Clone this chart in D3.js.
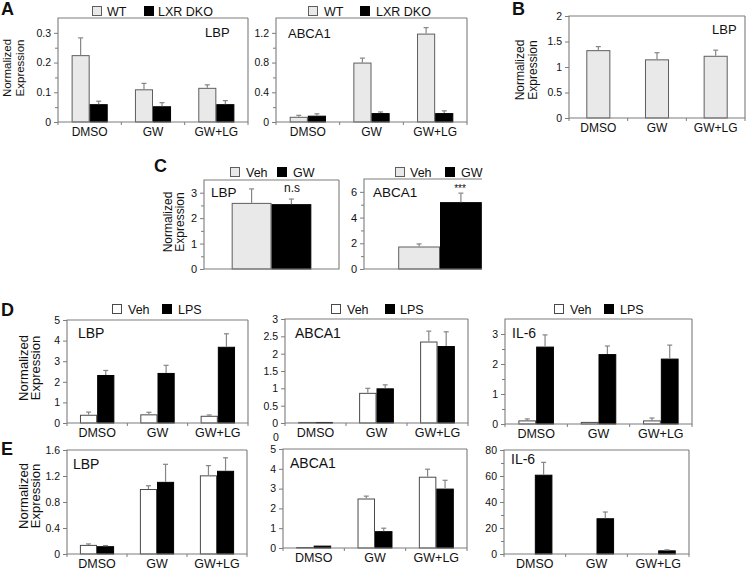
<!DOCTYPE html>
<html><head><meta charset="utf-8">
<script src="https://cdn.jsdelivr.net/npm/d3@7"></script>
<style>
body{margin:0;background:#fff}
svg{display:block}
text{font-family:"Liberation Sans",Arial,sans-serif;fill:#111}
</style>
</head><body>
<svg id="c" width="747" height="570"></svg>
<script>
// ---------- data ----------
const categories = ["DMSO", "GW", "GW+LG"];
const singleCat = [""];

// Panel A (WT vs LXR DKO)
const aLbpWT = [0.225, 0.11, 0.115];
const aLbpWTErr = [0.058, 0.02, 0.01];
const aLbpKO = [0.06, 0.053, 0.06];
const aLbpKOErr = [0.01, 0.012, 0.012];
const aAbcaWT = [0.07, 0.8, 1.19];
const aAbcaWTErr = [0.02, 0.06, 0.08];
const aAbcaKO = [0.085, 0.12, 0.12];
const aAbcaKOErr = [0.025, 0.015, 0.03];

// Panel B
const bLbp = [1.33, 1.15, 1.22];
const bLbpErr = [0.07, 0.13, 0.11];

// Panel C (Veh vs GW)
const cLbpVeh = [2.6], cLbpVehErr = [0.55];
const cLbpGW = [2.55], cLbpGWErr = [0.2];
const cAbcaVeh = [1.75], cAbcaVehErr = [0.2];
const cAbcaGW = [5.2], cAbcaGWErr = [0.7];

// Panel D (Veh vs LPS)
const dLbpVeh = [0.4, 0.42, 0.35], dLbpVehErr = [0.13, 0.1, 0.04];
const dLbpLPS = [2.33, 2.43, 3.7], dLbpLPSErr = [0.22, 0.37, 0.63];
const dAbcaVeh = [0.03, 0.87, 2.35], dAbcaVehErr = [0, 0.13, 0.3];
const dAbcaLPS = [0.03, 1.0, 2.22], dAbcaLPSErr = [0, 0.1, 0.41];
const dIl6Veh = [0.12, 0.07, 0.12], dIl6VehErr = [0.05, 0, 0.08];
const dIl6LPS = [2.58, 2.33, 2.18], dIl6LPSErr = [0.39, 0.27, 0.45];

// Panel E (Veh vs LPS)
const eLbpVeh = [0.14, 1.0, 1.21], eLbpVehErr = [0.015, 0.05, 0.15];
const eLbpLPS = [0.12, 1.11, 1.28], eLbpLPSErr = [0.01, 0.27, 0.2];
const eAbcaVeh = [0.05, 2.5, 3.6], eAbcaVehErr = [0, 0.12, 0.38];
const eAbcaLPS = [0.12, 0.85, 3.0], eAbcaLPSErr = [0, 0.15, 0.42];
const eIl6Veh = [0.3, 0.2, 0.2], eIl6VehErr = [0, 0, 0];
const eIl6LPS = [61, 27.5, 2.8], eIl6LPSErr = [9.5, 4.8, 0.4];

// tick values / labels
const aLbpTicks = [0, 0.1, 0.2, 0.3], aLbpTickLabels = ["0", "0.1", "0.2", "0.3"];
const aAbcaTicks = [0, 0.4, 0.8, 1.2], aAbcaTickLabels = ["0", "0.4", "0.8", "1.2"];
const bTicks = [0, 0.5, 1, 1.5, 2], bTickLabels = ["0", "0.5", "1", "1.5", "2"];
const cLbpTicks = [0, 1, 2, 3], cLbpTickLabels = ["0", "1", "2", "3"];
const cAbcaTicks = [0, 2, 4, 6], cAbcaTickLabels = ["0", "2", "4", "6"];
const dLbpTicks = [0, 1, 2, 3, 4, 5], dLbpTickLabels = ["0", "1", "2", "3", "4", "5"];
const dAbcaTicks = [0, 0.5, 1, 1.5, 2, 2.5, 3], dAbcaTickLabels = ["0", "0.5", "1", "1.5", "2", "2.5", "3"];
const dIl6Ticks = [0, 1, 2, 3], dIl6TickLabels = ["0", "1", "2", "3"];
const eLbpTicks = [0, 0.4, 0.8, 1.2, 1.6], eLbpTickLabels = ["0", "0.4", "0.8", "1.2", "1.6"];
const eAbcaTicks = [0, 1, 2, 3, 4, 5], eAbcaTickLabels = ["0", "1", "2", "3", "4", "5"];
const eIl6Ticks = [0, 20, 40, 60, 80], eIl6TickLabels = ["0", "20", "40", "60", "80"];

// ---------- styles ----------
const GRAY = "#e9e9e9", GRAY_STROKE = "#5e5e5e";
const WHITE = "#ffffff", WHITE_STROKE = "#4a4a4a";
const BLACK = "#000000";
const FRAME = "#7c7c7c", ERR = "#858585";
const svg = d3.select("#c");

function panel(o) {
  const g = svg.append("g");
  let clip = null;
  if (o.clipR) {
    const id = "clip" + Math.round(o.l);
    svg.append("clipPath").attr("id", id).append("rect")
      .attr("x", o.l - 60).attr("y", o.t - 5).attr("width", o.clipR - o.l + 60).attr("height", o.b - o.t + 30);
    g.attr("clip-path", `url(#${id})`);
  }
  const x = d3.scaleBand().domain(o.cats).range([o.l, o.r])
    .paddingInner(o.pad).paddingOuter(o.pad / 2);
  const xs = d3.scaleBand().domain(d3.range(o.series.length)).range([0, x.bandwidth()]);
  const y = d3.scaleLinear().domain([0, o.max]).range([o.b, o.t]);

  // bars
  o.series.forEach((s, si) => {
    g.selectAll(null).data(s.v).enter().append("rect")
      .attr("x", (d, i) => x(o.cats[i]) + xs(si) + 0.5)
      .attr("y", d => y(d) + 0.5)
      .attr("width", xs.bandwidth() - 1)
      .attr("height", d => Math.max(0, o.b - y(d) - 0.5))
      .attr("fill", s.fill).attr("stroke", s.stroke).attr("stroke-width", 1);
    // error bars
    s.v.forEach((d, i) => {
      const e = s.e[i];
      if (!e) return;
      const cx = x(o.cats[i]) + xs(si) + xs.bandwidth() / 2;
      g.append("line").attr("x1", cx).attr("x2", cx).attr("y1", y(d)).attr("y2", y(d + e))
        .attr("stroke", ERR).attr("stroke-width", 1.2);
      g.append("line").attr("x1", cx - 2.5).attr("x2", cx + 2.5).attr("y1", y(d + e)).attr("y2", y(d + e))
        .attr("stroke", ERR).attr("stroke-width", 1.2);
    });
  });

  // frame
  const fr = o.clipR ? o.clipR : o.r;
  const fp = `M${fr},${o.t}H${o.l}V${o.b}H${fr}` + (o.clipR ? "" : `V${o.t}`);
  svg.append("path").attr("d", fp).attr("fill", "none").attr("stroke", FRAME).attr("stroke-width", 1.1);

  // y axis major
  const ya = svg.append("g").attr("transform", `translate(${o.l},0)`)
    .call(d3.axisLeft(y).tickValues(o.ticks).tickFormat((d, i) => o.tickLabels[i]).tickSize(4).tickPadding(3));
  ya.select(".domain").remove();
  ya.selectAll("line").attr("stroke", FRAME);
  ya.selectAll("text").style("font-family", '"Liberation Sans",Arial,sans-serif')
    .style("font-size", (o.tickSize || 10.5) + "px").attr("fill", "#111");
  if (o.minor) {
    const ym = svg.append("g").attr("transform", `translate(${o.l},0)`)
      .call(d3.axisLeft(y).tickValues(o.minor).tickFormat("").tickSize(3));
    ym.select(".domain").remove();
    ym.selectAll("line").attr("stroke", FRAME);
  }

  // x boundaries ticks + labels
  if (o.showX) {
    const bounds = o.cats.map(c => x(c) - x.step() * o.pad / 2).concat([o.r]);
    svg.selectAll(null).data(bounds).enter().append("line")
      .attr("x1", d => d).attr("x2", d => d).attr("y1", o.b).attr("y2", o.b + 3)
      .attr("stroke", FRAME);
    svg.selectAll(null).data(o.cats).enter().append("text")
      .attr("x", d => x(d) + x.bandwidth() / 2).attr("y", o.b + 13.5)
      .attr("text-anchor", "middle").style("font-size", (o.catSize || 12) + "px").text(d => d);
  }

  // gene label
  svg.append("text").attr("x", o.gene.x).attr("y", o.gene.y)
    .style("font-size", o.gene.size + "px").text(o.gene.text);
  return { x, xs, y };
}

function legend(items, y, size) {
  items.forEach(it => {
    svg.append("rect").attr("x", it.x + 0.5).attr("y", y - 9.5).attr("width", 9).attr("height", 9)
      .attr("fill", it.fill).attr("stroke", it.stroke);
    svg.append("text").attr("x", it.tx).attr("y", y).style("font-size", (size || 12.5) + "px").text(it.label);
  });
}

function ytitle(x1, x2, cy, size) {
  [["Normalized", x1], ["Expression", x2]].forEach(([t, xx]) => {
    svg.append("text").attr("transform", `translate(${xx},${cy}) rotate(-90)`)
      .attr("text-anchor", "middle").style("font-size", size + "px").text(t);
  });
}

function letter(t, x, y) {
  svg.append("text").attr("x", x).attr("y", y).style("font-size", "18px")
    .style("font-weight", "bold").text(t);
}

// ---------- Panel A ----------
letter("A", 1, 15);
ytitle(10.5, 23.5, 68, 11.5);
legend([
  { x: 92, tx: 107, label: "WT", fill: GRAY, stroke: GRAY_STROKE },
  { x: 144, tx: 158, label: "LXR DKO", fill: BLACK, stroke: BLACK }
], 16);
panel({
  l: 58, t: 18, r: 248, b: 122, max: 0.35, ticks: aLbpTicks, tickLabels: aLbpTickLabels,
  minor: [0.05, 0.15, 0.25], cats: categories, pad: 0.43, showX: true, catSize: 12,
  series: [
    { v: aLbpWT, e: aLbpWTErr, fill: GRAY, stroke: GRAY_STROKE },
    { v: aLbpKO, e: aLbpKOErr, fill: BLACK, stroke: BLACK }
  ],
  gene: { text: "LBP", x: 205, y: 37, size: 13 }
});
legend([
  { x: 308, tx: 324, label: "WT", fill: GRAY, stroke: GRAY_STROKE },
  { x: 360, tx: 376, label: "LXR DKO", fill: BLACK, stroke: BLACK }
], 16);
panel({
  l: 276, t: 18, r: 467, b: 122, max: 1.4, ticks: aAbcaTicks, tickLabels: aAbcaTickLabels,
  minor: [0.2, 0.6, 1.0], cats: categories, pad: 0.43, showX: true, catSize: 12,
  series: [
    { v: aAbcaWT, e: aAbcaWTErr, fill: GRAY, stroke: GRAY_STROKE },
    { v: aAbcaKO, e: aAbcaKOErr, fill: BLACK, stroke: BLACK }
  ],
  gene: { text: "ABCA1", x: 288, y: 38, size: 13 }
});

// ---------- Panel B ----------
letter("B", 512, 15);
ytitle(524, 536.5, 70, 12);
panel({
  l: 569, t: 16, r: 745, b: 118, max: 2, ticks: bTicks, tickLabels: bTickLabels,
  cats: categories, pad: 0.59, showX: true, catSize: 12,
  series: [{ v: bLbp, e: bLbpErr, fill: GRAY, stroke: GRAY_STROKE }],
  gene: { text: "LBP", x: 712, y: 34, size: 13 }
});

// ---------- Panel C ----------
letter("C", 154, 172);
ytitle(172, 184, 222, 12);
legend([
  { x: 230, tx: 246, label: "Veh", fill: GRAY, stroke: GRAY_STROKE },
  { x: 277, tx: 293, label: "GW", fill: BLACK, stroke: BLACK }
], 177);
panel({
  l: 204, t: 180, r: 339, b: 269, max: 3.5, ticks: cLbpTicks, tickLabels: cLbpTickLabels,
  minor: [0.5, 1.5, 2.5], cats: singleCat, pad: 0.41, showX: false, tickSize: 11,
  series: [
    { v: cLbpVeh, e: cLbpVehErr, fill: GRAY, stroke: GRAY_STROKE },
    { v: cLbpGW, e: cLbpGWErr, fill: BLACK, stroke: BLACK }
  ],
  gene: { text: "LBP", x: 211, y: 197, size: 13.5 }
});
svg.append("text").attr("x", 292).attr("y", 192).attr("text-anchor", "middle")
  .style("font-size", "12px").text("n.s");
legend([
  { x: 395, tx: 410, label: "Veh", fill: GRAY, stroke: GRAY_STROKE },
  { x: 445, tx: 461, label: "GW", fill: BLACK, stroke: BLACK }
], 177);
panel({
  l: 364, t: 179, r: 516, b: 269, clipR: 482, max: 7, ticks: cAbcaTicks, tickLabels: cAbcaTickLabels,
  minor: [1, 3, 5], cats: singleCat, pad: 0.45, showX: false, tickSize: 11,
  series: [
    { v: cAbcaVeh, e: cAbcaVehErr, fill: GRAY, stroke: GRAY_STROKE },
    { v: cAbcaGW, e: cAbcaGWErr, fill: BLACK, stroke: BLACK }
  ],
  gene: { text: "ABCA1", x: 373, y: 197, size: 13.5 }
});
svg.append("text").attr("x", 460).attr("y", 192).attr("text-anchor", "middle")
  .style("font-size", "10px").text("***");

// ---------- Panel D ----------
letter("D", 1, 316);
ytitle(27.5, 40, 368, 13);
legend([
  { x: 112, tx: 128, label: "Veh", fill: WHITE, stroke: WHITE_STROKE },
  { x: 162, tx: 178, label: "LPS", fill: BLACK, stroke: BLACK }
], 314);
panel({
  l: 67, t: 320, r: 248, b: 423, max: 5, ticks: dLbpTicks, tickLabels: dLbpTickLabels,
  cats: categories, pad: 0.43, showX: true, catSize: 12.5,
  series: [
    { v: dLbpVeh, e: dLbpVehErr, fill: WHITE, stroke: WHITE_STROKE },
    { v: dLbpLPS, e: dLbpLPSErr, fill: BLACK, stroke: BLACK }
  ],
  gene: { text: "LBP", x: 78, y: 338, size: 14 }
});
legend([
  { x: 331, tx: 347, label: "Veh", fill: WHITE, stroke: WHITE_STROKE },
  { x: 385, tx: 400, label: "LPS", fill: BLACK, stroke: BLACK }
], 314);
panel({
  l: 285, t: 319, r: 468, b: 423, max: 3, ticks: dAbcaTicks, tickLabels: dAbcaTickLabels,
  cats: categories, pad: 0.43, showX: true, catSize: 12.5,
  series: [
    { v: dAbcaVeh, e: dAbcaVehErr, fill: WHITE, stroke: WHITE_STROKE },
    { v: dAbcaLPS, e: dAbcaLPSErr, fill: BLACK, stroke: BLACK }
  ],
  gene: { text: "ABCA1", x: 295, y: 338, size: 14 }
});
legend([
  { x: 554, tx: 570, label: "Veh", fill: WHITE, stroke: WHITE_STROKE },
  { x: 604, tx: 620, label: "LPS", fill: BLACK, stroke: BLACK }
], 314);
panel({
  l: 505, t: 319, r: 692, b: 424, max: 3.5, ticks: dIl6Ticks, tickLabels: dIl6TickLabels,
  minor: [0.5, 1.5, 2.5], cats: categories, pad: 0.43, showX: true, catSize: 12.5,
  series: [
    { v: dIl6Veh, e: dIl6VehErr, fill: WHITE, stroke: WHITE_STROKE },
    { v: dIl6LPS, e: dIl6LPSErr, fill: BLACK, stroke: BLACK }
  ],
  gene: { text: "IL-6", x: 512, y: 338, size: 14 }
});
svg.append("text").attr("x", 273).attr("y", 441).style("font-size", "10.5px").text("0");

// ---------- Panel E ----------
letter("E", 1, 455);
ytitle(27.5, 40, 496, 13);
panel({
  l: 67, t: 450, r: 247, b: 554, max: 1.6, ticks: eLbpTicks, tickLabels: eLbpTickLabels,
  cats: categories, pad: 0.43, showX: true, catSize: 12.5,
  series: [
    { v: eLbpVeh, e: eLbpVehErr, fill: WHITE, stroke: WHITE_STROKE },
    { v: eLbpLPS, e: eLbpLPSErr, fill: BLACK, stroke: BLACK }
  ],
  gene: { text: "LBP", x: 73, y: 469, size: 14 }
});
panel({
  l: 283, t: 449, r: 467, b: 548, max: 5, ticks: eAbcaTicks, tickLabels: eAbcaTickLabels,
  cats: categories, pad: 0.43, showX: true, catSize: 12.5,
  series: [
    { v: eAbcaVeh, e: eAbcaVehErr, fill: WHITE, stroke: WHITE_STROKE },
    { v: eAbcaLPS, e: eAbcaLPSErr, fill: BLACK, stroke: BLACK }
  ],
  gene: { text: "ABCA1", x: 290, y: 468, size: 14 }
});
panel({
  l: 504, t: 450, r: 689, b: 554, max: 80, ticks: eIl6Ticks, tickLabels: eIl6TickLabels,
  minor: [10, 30, 50, 70], cats: categories, pad: 0.43, showX: true, catSize: 12.5,
  series: [
    { v: eIl6Veh, e: eIl6VehErr, fill: WHITE, stroke: WHITE_STROKE },
    { v: eIl6LPS, e: eIl6LPSErr, fill: BLACK, stroke: BLACK }
  ],
  gene: { text: "IL-6", x: 511, y: 464, size: 14 }
});
</script>
</body></html>
